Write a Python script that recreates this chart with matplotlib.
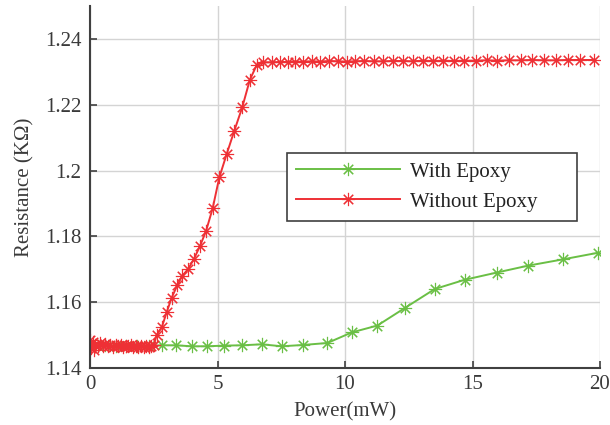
import numpy as np
import matplotlib
matplotlib.use("Agg")
import matplotlib.pyplot as plt

# power (mW) and resistance (KOhm)
with_x = [0, 0.3, 0.6, 1.0, 1.4, 1.85, 2.33, 2.83, 3.36, 3.99, 4.6, 5.25, 5.97,
          6.73, 7.52, 8.36, 9.31, 10.26, 11.27, 12.36, 13.52, 14.69, 15.95,
          17.18, 18.54, 19.91]
with_y = [1.1468, 1.1466, 1.1469, 1.1467, 1.1468, 1.1466, 1.1467, 1.1469, 1.1469,
          1.1466, 1.1466, 1.1468, 1.1469, 1.1472, 1.1466, 1.1470, 1.1476, 1.1508,
          1.1529, 1.1583, 1.1640, 1.1668, 1.1690, 1.1711, 1.1730, 1.1750]

without_x = [0, 0.05, 0.1, 0.15, 0.2, 0.3, 0.4, 0.5, 0.6, 0.7, 0.8, 0.9, 1.0,
             1.1, 1.2, 1.3, 1.4, 1.5, 1.6, 1.7, 1.8, 1.9, 2.0, 2.1, 2.2, 2.3,
             2.4, 2.5, 2.62, 2.82, 3.01, 3.20, 3.42, 3.62, 3.85, 4.08, 4.31,
             4.55, 4.81, 5.07, 5.36, 5.66, 5.97, 6.27, 6.54, 6.80, 7.15, 7.45,
             7.75, 8.04, 8.36, 8.69, 9.02, 9.38, 9.71, 10.07, 10.39, 10.75,
             11.14, 11.50, 11.87, 12.26, 12.66, 13.05, 13.46, 13.86, 14.27,
             14.68, 15.13, 15.56, 15.97, 16.44, 16.89, 17.35, 17.82, 18.27,
             18.73, 19.22, 19.75]
without_y = [1.1485, 1.1462, 1.1478, 1.1455, 1.1470, 1.1466, 1.1475, 1.1468,
             1.1472, 1.1466, 1.1470, 1.1465, 1.1469, 1.1466, 1.1470, 1.1465,
             1.1468, 1.1466, 1.1469, 1.1464, 1.1467, 1.1465, 1.1468, 1.1464,
             1.1466, 1.1465, 1.1468, 1.1470, 1.1501, 1.1525, 1.1570, 1.1613,
             1.1651, 1.1680, 1.1701, 1.1732, 1.1770, 1.1816, 1.1885, 1.1979,
             1.2050, 1.2121, 1.2192, 1.2276, 1.2321, 1.2329, 1.2329, 1.2330,
             1.2330, 1.2331, 1.2331, 1.2332, 1.2331, 1.2333, 1.2332, 1.2331,
             1.2332, 1.2333, 1.2332, 1.2332, 1.2333, 1.2333, 1.2332, 1.2334,
             1.2333, 1.2334, 1.2333, 1.2334, 1.2334, 1.2335, 1.2334, 1.2335,
             1.2335, 1.2336, 1.2335, 1.2335, 1.2336, 1.2336, 1.2336]

green = "#6abf45"
red = "#ee3035"
dark = "#404040"

plt.rcParams['font.family'] = ['Liberation Serif', 'DejaVu Serif']
plt.rcParams['font.size'] = 15

fig = plt.figure(figsize=(6.1, 4.25), dpi=100)
ax = fig.add_axes([90/610, 57/425, 510/610, 362/425])

asterisk = (8, 2, 0)
ax.plot(with_x, with_y, color=green, lw=1.4, marker=asterisk, ms=9.5, mew=0.8,
        label="With Epoxy")
ax.plot(without_x, without_y, color=red, lw=1.4, marker=asterisk, ms=9.5, mew=0.8,
        label="Without Epoxy")

ax.set_xlim(0, 20)
ax.set_ylim(1.14, 1.25)
ax.set_xticks([0, 5, 10, 15, 20])
ax.set_yticks([1.14, 1.16, 1.18, 1.2, 1.22, 1.24])
ax.set_yticklabels(["1.14", "1.16", "1.18", "1.2", "1.22", "1.24"])
ax.grid(True, color="#d4d4d4", lw=1.0)
ax.set_axisbelow(True)

for s in ["top", "right"]:
    ax.spines[s].set_visible(False)
for s in ["left", "bottom"]:
    ax.spines[s].set_color(dark)
    ax.spines[s].set_linewidth(1.5)
ax.tick_params(direction="in", length=5, width=1.2, color=dark,
               labelcolor="#3a3a3a", labelsize=15)
ax.tick_params(axis="x", pad=5)
ax.tick_params(axis="y", pad=6)

ax.set_xlabel("Power(mW)", color="#3a3a3a", fontsize=15, labelpad=6)
ax.set_ylabel("Resistance (KΩ)", color="#3a3a3a", fontsize=15, labelpad=8)

leg = ax.legend(loc="lower left", bbox_to_anchor=(0.386, 0.406, 0.569, 0.191),
                mode="expand", handlelength=5.0, handletextpad=0.45,
                borderpad=0.45, labelspacing=0.5, borderaxespad=0,
                fancybox=False, framealpha=1, edgecolor=dark, fontsize=15)
leg.get_frame().set_linewidth(1.2)
for t in leg.get_texts():
    t.set_color("#222222")

fig.savefig("out.png", dpi=100)
